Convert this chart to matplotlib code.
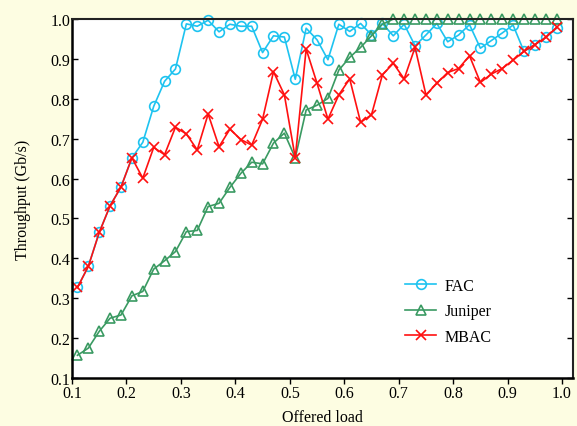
import matplotlib
matplotlib.use("Agg")
from matplotlib import pyplot
import numpy

# offered load, 0.11 .. 0.99 in steps of 0.02
load = [0.11, 0.13, 0.15, 0.17, 0.19, 0.21, 0.23, 0.25, 0.27, 0.29,
        0.31, 0.33, 0.35, 0.37, 0.39, 0.41, 0.43, 0.45, 0.47, 0.49,
        0.51, 0.53, 0.55, 0.57, 0.59, 0.61, 0.63, 0.65, 0.67, 0.69,
        0.71, 0.73, 0.75, 0.77, 0.79, 0.81, 0.83, 0.85, 0.87, 0.89,
        0.91, 0.93, 0.95, 0.97, 0.99]

fac = [0.327, 0.380, 0.465, 0.532, 0.579, 0.652, 0.691, 0.781, 0.844, 0.875,
       0.988, 0.982, 0.997, 0.968, 0.987, 0.982, 0.982, 0.916, 0.958, 0.955,
       0.849, 0.977, 0.948, 0.898, 0.987, 0.969, 0.989, 0.960, 0.989, 0.958,
       0.987, 0.933, 0.960, 0.989, 0.943, 0.960, 0.986, 0.927, 0.946, 0.965,
       0.985, 0.919, 0.936, 0.954, 0.977]

juniper = [0.157, 0.175, 0.217, 0.250, 0.258, 0.306, 0.317, 0.373, 0.394, 0.417,
           0.467, 0.470, 0.530, 0.538, 0.578, 0.613, 0.641, 0.637, 0.689, 0.714,
           0.652, 0.772, 0.784, 0.801, 0.872, 0.904, 0.929, 0.958, 0.987, 1.000,
           1.000, 1.000, 1.000, 1.000, 1.000, 1.000, 1.000, 1.000, 1.000, 1.000,
           1.000, 1.000, 1.000, 1.000, 1.000]

mbac = [0.327, 0.380, 0.465, 0.532, 0.579, 0.652, 0.601, 0.678, 0.660, 0.729,
        0.712, 0.672, 0.762, 0.680, 0.724, 0.698, 0.684, 0.749, 0.868, 0.810,
        0.652, 0.925, 0.839, 0.749, 0.810, 0.850, 0.741, 0.760, 0.860, 0.889,
        0.850, 0.929, 0.810, 0.839, 0.866, 0.876, 0.908, 0.841, 0.862, 0.876,
        0.897, 0.919, 0.936, 0.954, 0.979]

xticks = numpy.round(numpy.arange(0.1, 1.01, 0.1), 1)
yticks = numpy.round(numpy.arange(0.1, 1.01, 0.1), 1)

bg = '#fdfde2'
pyplot.rcParams['font.family'] = ['Liberation Serif', 'DejaVu Serif']

fig = pyplot.figure(figsize=(5.77, 4.27), dpi=100, facecolor=bg)
ax = fig.add_axes([0.1248, 0.1124, 0.993 - 0.1248, 0.953 - 0.1124])

style = dict(linewidth=1.2, markersize=7, markerfacecolor='none',
             markeredgewidth=1.2, clip_on=False)
ax.plot(load, fac, color='#1ec3f0', marker='o', label='FAC', **style)
ax.plot(load, juniper, color='#3a9a62', marker='^', label='Juniper', **style)
ax.plot(load, mbac, color='#ff1010', marker='x', label='MBAC', **style)

ax.set_xlim(0.1, 1.02)
ax.set_ylim(0.1, 1.0)
ax.set_xticks(xticks)
ax.set_yticks(yticks)
ax.set_xticklabels(["%.1f" % t for t in xticks])
ax.set_yticklabels(["%.1f" % t for t in yticks])
ax.tick_params(axis='both', which='both', labelsize=11.5, length=4,
               width=1, direction='out', pad=1)
ax.tick_params(right=True, direction='in', which='both', axis='y')
ax.tick_params(axis='y', left=True)
for side in ('left', 'bottom'):
    ax.spines[side].set_linewidth(1.8)
for side in ('top', 'right'):
    ax.spines[side].set_linewidth(1.5)
    ax.spines[side].set_color('#222222')

ax.set_xlabel("Offered load", fontsize=11.5, labelpad=6)
ax.set_ylabel("Throughput (Gb/s)", fontsize=11.5, labelpad=14)

ax.legend(loc='lower right', bbox_to_anchor=(0.866, 0.052), frameon=False,
          fontsize=11.5, handlelength=2.0, handletextpad=0.5,
          labelspacing=0.6)

fig.savefig('out.png', dpi=100, facecolor=bg)
